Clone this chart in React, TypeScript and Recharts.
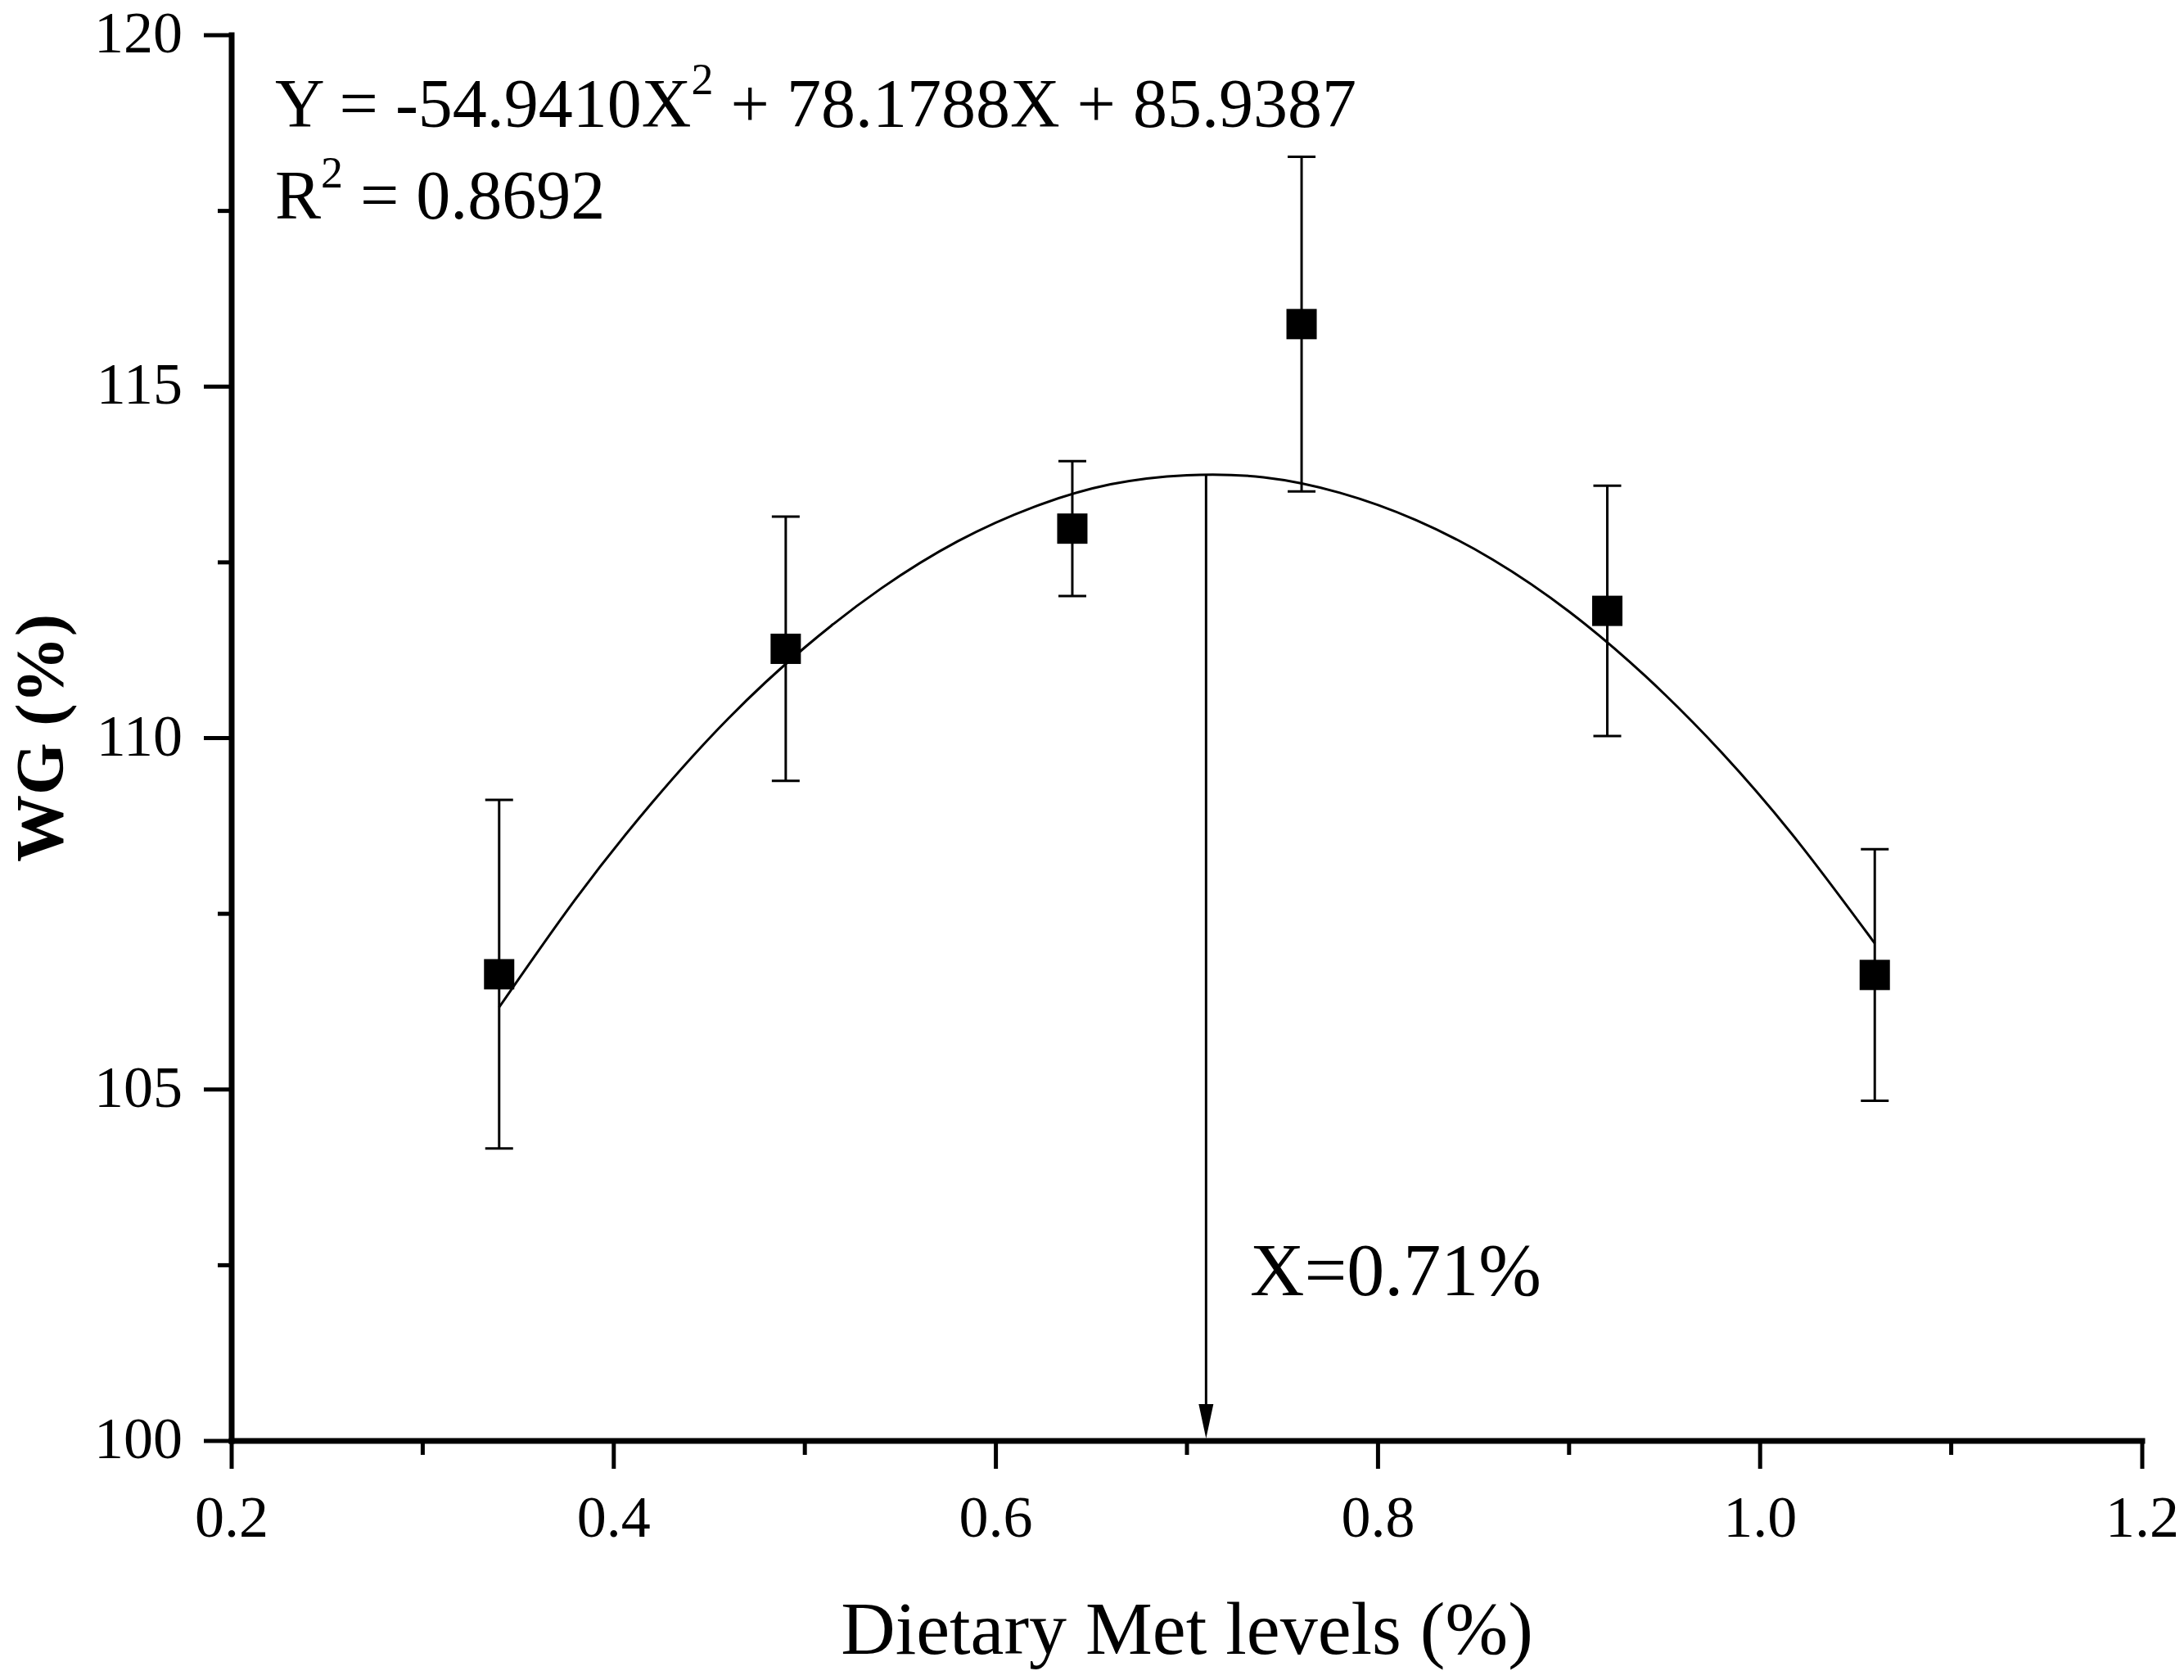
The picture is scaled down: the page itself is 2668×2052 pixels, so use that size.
import React from "react";
import {
  ComposedChart,
  ErrorBar,
  Line,
  ReferenceDot,
  ReferenceLine,
  Scatter,
  XAxis,
  YAxis
} from "recharts";

// measured groups (mean ± SD), dietary Met level in %
const metLevels = [0.34, 0.49, 0.64, 0.76, 0.92, 1.06];
const wgMeans = [106.64, 111.27, 112.98, 115.89, 111.81, 106.63];
const wgSd = [2.48, 1.88, 0.96, 2.38, 1.78, 1.79];

// fitted quadratic
const fitX = [0.34, 0.38, 0.42, 0.46, 0.5, 0.54, 0.58, 0.62, 0.66, 0.7, 0.74, 0.78, 0.82, 0.86, 0.9, 0.94, 0.98, 1.02, 1.06];
const fitY = [
  106.17, 107.71, 109.08, 110.28, 111.29, 112.13, 112.8, 113.29, 113.61, 113.74, 113.71, 113.49, 113.1, 112.54, 111.8,
  110.88, 109.79, 108.52, 107.08
];

const optimumX = 0.71;
const optimumY = 113.74;

const xTicks = [0.2, 0.3, 0.4, 0.5, 0.6, 0.7, 0.8, 0.9, 1.0, 1.1, 1.2];
const yTicks = [100, 102.5, 105, 107.5, 110, 112.5, 115, 117.5, 120];

const points = metLevels.map((x, i) => ({ x, wg: wgMeans[i], sd: wgSd[i] }));
const curve = fitX.map((x, i) => ({ x, fit: fitY[i] }));

const FONT = "'Liberation Serif', 'Times New Roman', serif";

function XTick({ x, y, payload }: any) {
  const v = payload.value;
  const major = Math.round(v * 10) % 2 === 0;
  return (
    <g>
      <line x1={x} y1={y} x2={x} y2={y + (major ? 34 : 17)} stroke="#000" strokeWidth={5} />
      {major && (
        <text x={x} y={y + 117} textAnchor="middle" fontFamily={FONT} fontSize={72} fill="#000">
          {v.toFixed(1)}
        </text>
      )}
    </g>
  );
}

function YTick({ x, y, payload }: any) {
  const v = payload.value;
  const major = v % 5 === 0;
  return (
    <g>
      <line x1={x} y1={y} x2={x - (major ? 34 : 17)} y2={y} stroke="#000" strokeWidth={5} />
      {major && (
        <text x={x - 60} y={y + 21} textAnchor="end" fontFamily={FONT} fontSize={72} fill="#000">
          {v}
        </text>
      )}
    </g>
  );
}

function SquareMarker({ cx, cy }: any) {
  return <rect x={cx - 18.5} y={cy - 18.5} width={37} height={37} fill="#000" />;
}

function ArrowLine({ x1, y1, x2, y2 }: any) {
  const tipY = Math.max(y1, y2) - 3;
  const topY = Math.min(y1, y2);
  return (
    <g>
      <line x1={x1} y1={topY} x2={x2} y2={tipY - 30} stroke="#000" strokeWidth={3} />
      <polygon points={`${x1 - 9},${tipY - 42} ${x1 + 9},${tipY - 42} ${x1},${tipY}`} fill="#000" />
    </g>
  );
}

const textStyle = { whiteSpace: "pre" as const };

export default function App() {
  return (
    <div style={{ width: 2668, height: 2052, background: "#fff" }}>
      <style>{`body{margin:0;background:#fff}`}</style>
      <ComposedChart width={2668} height={2052} margin={{ top: 43, right: 51, bottom: 0, left: 0 }}>
        <XAxis
          type="number"
          dataKey="x"
          domain={[0.2, 1.2]}
          ticks={xTicks}
          interval={0}
          allowDataOverflow
          height={292}
          tickSize={0}
          tickMargin={0}
          tickLine={false}
          tick={<XTick />}
          axisLine={{ stroke: "#000", strokeWidth: 7, strokeLinecap: "square" }}
          label={{
            content: ({ viewBox }: any) => (
              <text
                x={viewBox.x + viewBox.width / 2}
                y={viewBox.y + 260}
                textAnchor="middle"
                fontFamily={FONT}
                fontSize={92}
                fill="#000"
              >
                Dietary Met levels (%)
              </text>
            )
          }}
        />
        <YAxis
          type="number"
          domain={[100, 120]}
          ticks={yTicks}
          interval={0}
          allowDataOverflow
          width={283}
          tickSize={0}
          tickMargin={0}
          tickLine={false}
          tick={<YTick />}
          axisLine={{ stroke: "#000", strokeWidth: 7, strokeLinecap: "square" }}
          label={{
            content: ({ viewBox }: any) => {
              const cx = viewBox.x + 76;
              const cy = viewBox.y + viewBox.height / 2;
              return (
                <text
                  x={cx}
                  y={cy}
                  transform={`rotate(-90 ${cx} ${cy})`}
                  textAnchor="middle"
                  fontFamily={FONT}
                  fontWeight="bold"
                  fontSize={82}
                  fill="#000"
                >
                  WG (%)
                </text>
              );
            }
          }}
        />
        <Line
          data={curve}
          dataKey="fit"
          type="natural"
          stroke="#000"
          strokeWidth={3}
          dot={false}
          activeDot={false}
          isAnimationActive={false}
        />
        <ReferenceLine
          segment={[
            { x: optimumX, y: optimumY },
            { x: optimumX, y: 100 }
          ]}
          stroke="#000"
          shape={<ArrowLine />}
        />
        <Scatter data={points} dataKey="wg" shape={<SquareMarker />} isAnimationActive={false}>
          <ErrorBar dataKey="sd" direction="y" width={17} stroke="#000" strokeWidth={3} isAnimationActive={false} />
        </Scatter>
        <ReferenceDot
          x={0.2227}
          y={118.695}
          r={0}
          fill="none"
          stroke="none"
          label={{
            content: ({ viewBox }: any) => (
              <text x={viewBox.x} y={viewBox.y} fontFamily={FONT} fontSize={84} fill="#000" style={textStyle}>
                {"Y = -54.9410X"}
                <tspan dy={-40} fontSize={54}>
                  2
                </tspan>
                <tspan dy={40}>{" + 78.1788X + 85.9387"}</tspan>
              </text>
            )
          }}
        />
        <ReferenceDot
          x={0.2227}
          y={117.39}
          r={0}
          fill="none"
          stroke="none"
          label={{
            content: ({ viewBox }: any) => (
              <text x={viewBox.x} y={viewBox.y} fontFamily={FONT} fontSize={84} fill="#000" style={textStyle}>
                {"R"}
                <tspan dy={-38} fontSize={54}>
                  2
                </tspan>
                <tspan dy={38}>{" = 0.8692"}</tspan>
              </text>
            )
          }}
        />
        <ReferenceDot
          x={0.733}
          y={102.07}
          r={0}
          fill="none"
          stroke="none"
          label={{
            content: ({ viewBox }: any) => (
              <text x={viewBox.x} y={viewBox.y} fontFamily={FONT} fontSize={92} fill="#000">
                X=0.71%
              </text>
            )
          }}
        />
      </ComposedChart>
    </div>
  );
}
